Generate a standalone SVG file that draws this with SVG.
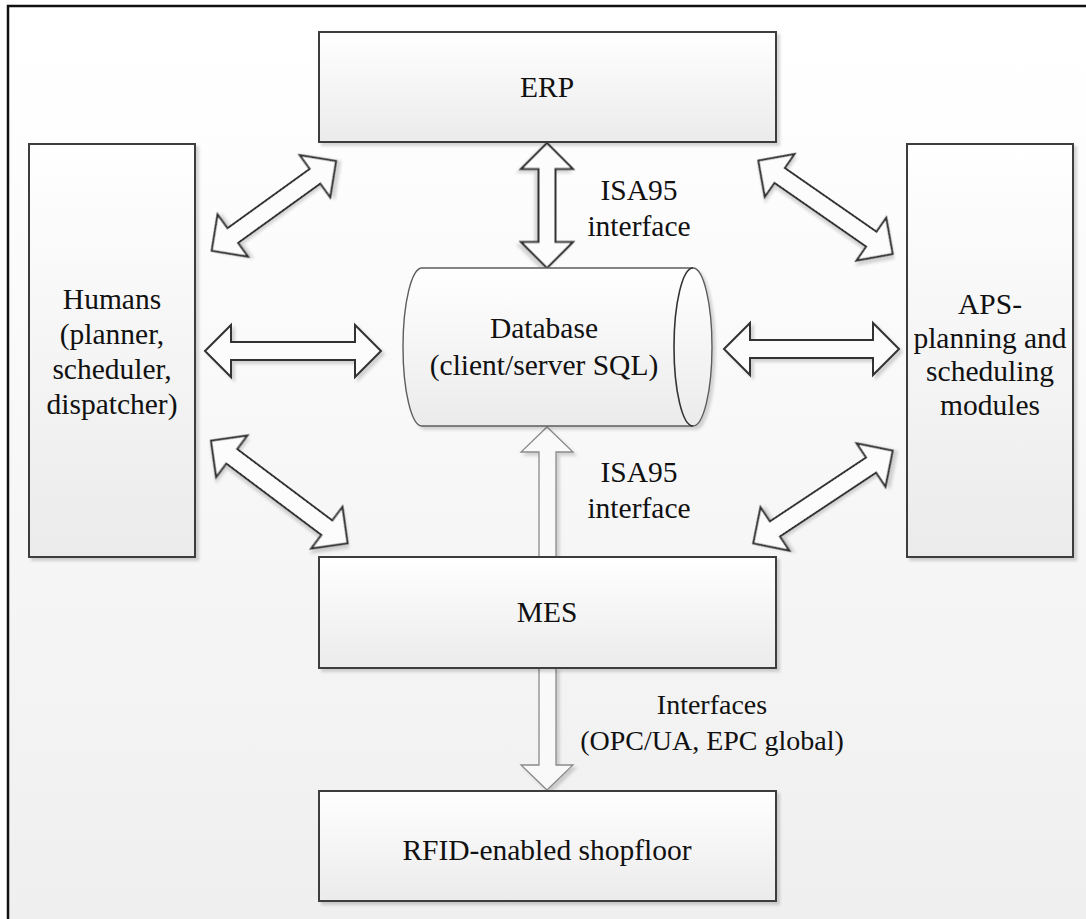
<svg xmlns="http://www.w3.org/2000/svg" width="1086" height="919" viewBox="0 0 1086 919">
  <defs>
    <linearGradient id="bg" x1="0" y1="0" x2="0" y2="1">
      <stop offset="0" stop-color="#ffffff"/>
      <stop offset="0.12" stop-color="#fefefe"/>
      <stop offset="1" stop-color="#efefef"/>
    </linearGradient>
    <linearGradient id="boxFill" x1="0" y1="0" x2="0" y2="1">
      <stop offset="0" stop-color="#ffffff"/>
      <stop offset="1" stop-color="#ebebeb"/>
    </linearGradient>
    <filter id="shadow" x="-10%" y="-10%" width="125%" height="125%">
      <feDropShadow dx="3" dy="3" stdDeviation="1.5" flood-color="#000" flood-opacity="0.16"/>
    </filter>
  </defs>
  <style>
    .box { fill: url(#boxFill); stroke: #3c3c3c; stroke-width: 2; filter: url(#shadow); }
    .cyl { fill: url(#boxFill); stroke: #5c5c5c; stroke-width: 1.4; filter: url(#shadow); }
    .cylEnd { fill: none; stroke: #333; stroke-width: 1.6; }
    .arrow { fill: #fcfcfc; stroke: #333; stroke-width: 2; stroke-linejoin: miter; filter: url(#shadow); }
    .arrowLight { fill: #f9f9f9; stroke: #8a8a8a; stroke-width: 1.3; filter: url(#shadow); }
    .t { font-family: 'Liberation Serif', 'Times New Roman', Times, 'DejaVu Serif', serif; font-size: 29.5px; fill: #111; text-anchor: middle; }
    .small { font-size: 28px; }
  </style>

  <!-- page background and frame -->
  <rect x="0" y="0" width="1086" height="919" fill="#ffffff"/>
  <rect x="8" y="6" width="1078" height="913" fill="url(#bg)"/>
  <path d="M8,919 V6 H1086" fill="none" stroke="#111" stroke-width="2.5"/>

  <!-- connectors -->
  <g id="connectors">
    <!-- ERP <-> Database -->
    <path class="arrow" transform="translate(547,205.5) rotate(90)" d="M-62.5,0 L-36.5,-26 L-36.5,-8.5 L36.5,-8.5 L36.5,-26 L62.5,0 L36.5,26 L36.5,8.5 L-36.5,8.5 L-36.5,26 Z"/>
    <!-- Humans <-> Database -->
    <path class="arrow" transform="translate(293,351)" d="M-88,0 L-62,-26 L-62,-9 L62,-9 L62,-26 L88,0 L62,26 L62,9 L-62,9 L-62,26 Z"/>
    <!-- Database <-> APS -->
    <path class="arrow" transform="translate(811.5,349)" d="M-87.5,0 L-61.5,-26 L-61.5,-9 L61.5,-9 L61.5,-26 L87.5,0 L61.5,26 L61.5,9 L-61.5,9 L-61.5,26 Z"/>
    <!-- Humans <-> ERP -->
    <path class="arrow" transform="translate(273.9,205.9) rotate(-35.8)" d="M-76.65,0 L-50.65,-26 L-50.65,-9 L50.65,-9 L50.65,-26 L76.65,0 L50.65,26 L50.65,9 L-50.65,9 L-50.65,26 Z"/>
    <!-- Humans <-> MES -->
    <path class="arrow" transform="translate(279.3,492) rotate(36.9)" d="M-85.45,0 L-59.45,-26 L-59.45,-9 L59.45,-9 L59.45,-26 L85.45,0 L59.45,26 L59.45,9 L-59.45,9 L-59.45,26 Z"/>
    <!-- ERP <-> APS -->
    <path class="arrow" transform="translate(825.5,207.3) rotate(34.8)" d="M-81.8,0 L-55.8,-26 L-55.8,-9 L55.8,-9 L55.8,-26 L81.8,0 L55.8,26 L55.8,9 L-55.8,9 L-55.8,26 Z"/>
    <!-- MES <-> APS -->
    <path class="arrow" transform="translate(823,497) rotate(-33.6)" d="M-83.7,0 L-57.7,-26 L-57.7,-9 L57.7,-9 L57.7,-26 L83.7,0 L57.7,26 L57.7,9 L-57.7,9 L-57.7,26 Z"/>
    <!-- MES -> Database -->
    <path class="arrowLight" d="M547,427 L573,452 L556,452 L556,557 L539,557 L539,452 L521,452 Z"/>
    <!-- MES -> RFID shopfloor -->
    <path class="arrowLight" d="M539,668 L556,668 L556,765 L573,765 L547,790 L521,765 L539,765 Z"/>
  </g>

  <!-- connector labels -->
  <g id="labels" font-family="Liberation Serif, Times New Roman, serif">
    <text class="t" x="639" y="200">ISA95</text>
    <text class="t" x="639" y="236">interface</text>
    <text class="t" x="639" y="482">ISA95</text>
    <text class="t" x="639" y="518">interface</text>
    <text class="t small" x="712" y="714">Interfaces</text>
    <text class="t small" x="712" y="750">(OPC/UA, EPC global)</text>
  </g>

  <!-- nodes -->
  <g id="erp" font-family="Liberation Serif, Times New Roman, serif">
    <rect class="box" x="319" y="32" width="457" height="110"/>
    <text class="t" x="547" y="97">ERP</text>
  </g>

  <g id="humans" font-family="Liberation Serif, Times New Roman, serif">
    <rect class="box" x="29" y="144" width="166" height="413"/>
    <text class="t" x="112" y="309">Humans</text>
    <text class="t" x="112" y="344">(planner,</text>
    <text class="t" x="112" y="379">scheduler,</text>
    <text class="t" x="112" y="414">dispatcher)</text>
  </g>

  <g id="aps" font-family="Liberation Serif, Times New Roman, serif">
    <rect class="box" x="907" y="144" width="166" height="413"/>
    <text class="t" x="990" y="314">APS-</text>
    <text class="t" x="990" y="348">planning and</text>
    <text class="t" x="990" y="381">scheduling</text>
    <text class="t" x="990" y="415">modules</text>
  </g>

  <g id="database" font-family="Liberation Serif, Times New Roman, serif">
    <path class="cyl" d="M422,268 H693 A19,79 0 0 1 693,426 H422 A19,79 0 0 1 422,268 Z"/>
    <path class="cylEnd" d="M693,268 A19,79 0 0 0 693,426"/>
    <text class="t" x="544" y="338">Database</text>
    <text class="t" x="544" y="375">(client/server SQL)</text>
  </g>

  <g id="mes" font-family="Liberation Serif, Times New Roman, serif">
    <rect class="box" x="319" y="557" width="457" height="111"/>
    <text class="t" x="547" y="622">MES</text>
  </g>

  <g id="rfid" font-family="Liberation Serif, Times New Roman, serif">
    <rect class="box" x="319" y="791" width="457" height="110"/>
    <text class="t" x="547" y="860">RFID-enabled shopfloor</text>
  </g>
</svg>
